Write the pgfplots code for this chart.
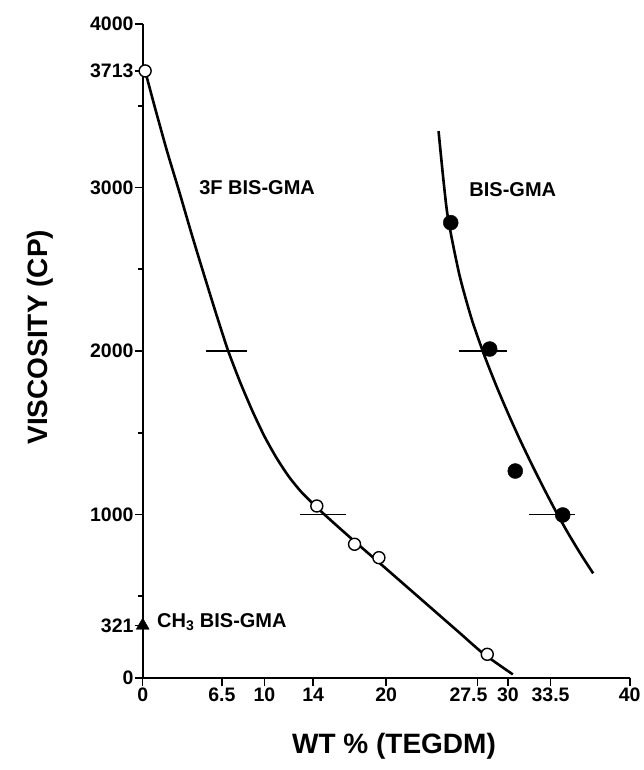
\documentclass[border=0pt]{standalone}
\usepackage{pgfplots}
\pgfplotsset{compat=1.18}
\usepackage{fontspec}
\setmainfont{Liberation Sans}

\begin{document}
\begin{tikzpicture}
\begin{axis}[
    name=ax,
    scale only axis,
    width=487pt, height=654pt,
    xmin=0, xmax=40, ymin=0, ymax=4000,
    axis x line*=bottom, axis y line*=left,
    clip=false,
    xtick={0,6.5,10,14,20,27.5,30,33.5,40},
    xticklabels={0,6.5,10,14,20,\hspace*{-18pt}27.5,30,33.5,40},
    ytick={0,321,1000,2000,3000,3713,4000},
    yticklabels={0,321,1000,2000,3000,3713,4000},
    minor ytick={500,1500,2500,3500},
    tick align=outside,
    major tick length=8pt, minor tick length=5pt,
    tick style={line width=1.6pt, black},
    axis line style={line width=2pt},
    tick label style={font=\fontsize{19.5}{20}\selectfont\bfseries},
    xticklabel style={inner sep=1pt, yshift=-1pt},
    yticklabel style={inner sep=1pt},
    xlabel={\textbf{WT \% (TEGDM)}},
    ylabel={\textbf{VISCOSITY (CP)}},
    xlabel style={font=\fontsize{28}{28}\selectfont, at={(axis description cs:0.516,-0.104)}, anchor=center},
    ylabel style={font=\fontsize{28}{28}\selectfont, at={(axis description cs:-0.211,0.521)}, anchor=center},
]
% 3F BIS-GMA fitted curve
\addplot[black, line width=2.6pt, smooth, tension=0.4] coordinates {
    (0.2,3713) (1,3490) (2,3222) (3,2975) (4,2720) (5,2475) (6,2235) (7,2005)
    (8,1810) (9,1635) (10,1478) (11,1345) (12,1232) (13,1140) (14,1065)
    (15,995) (16,928) (17,862) (18,797) (20,668) (22,538) (24,408)
    (26,278) (28,148) (30.4,22)
};
% BIS-GMA fitted curve
\addplot[black, line width=2.6pt, smooth, tension=0.4] coordinates {
    (24.3,3345) (25,2850) (26,2470) (27,2200) (28,1985) (29,1795) (30,1620)
    (31,1455) (32,1300) (33,1152) (34,1010) (35,878) (36,755) (37,640)
};
% horizontal range bars
\addplot[black, line width=1.6pt] coordinates {(5.2,2000) (8.6,2000)};
\addplot[black, line width=1.6pt] coordinates {(12.9,1000) (16.7,1000)};
\addplot[black, line width=1.6pt] coordinates {(26.0,2000) (29.9,2000)};
\addplot[black, line width=1.6pt] coordinates {(31.7,1000) (35.5,1000)};
% 3F BIS-GMA measurements
\addplot[only marks, mark=*, mark size=6pt, mark options={fill=white, draw=black, line width=1.4pt}] coordinates {
    (0.2,3713) (14.3,1052) (17.4,818) (19.4,736) (28.3,145)
};
% BIS-GMA measurements
\addplot[only marks, mark=*, mark size=7.5pt, black] coordinates {
    (25.3,2785) (28.5,2012) (30.6,1266) (34.5,997)
};
% CH3 BIS-GMA
\addplot[only marks, mark=triangle*, mark size=7.5pt, black] coordinates {(0,321)};

\node[font=\fontsize{20}{20}\selectfont\bfseries] at (axis cs:9.4,2997) {3F BIS-GMA};
\node[font=\fontsize{20}{20}\selectfont\bfseries] at (axis cs:30.4,2985) {BIS-GMA};
\node[font=\fontsize{20}{20}\selectfont\bfseries, anchor=west] at (axis cs:0.9,340) {CH\textsubscript{3} BIS-GMA};
\end{axis}
\pgfresetboundingbox
\path ([shift={(-142.7pt,-92pt)}]ax.south west) rectangle ([shift={(14pt,24pt)}]ax.north east);
\end{tikzpicture}
\end{document}
